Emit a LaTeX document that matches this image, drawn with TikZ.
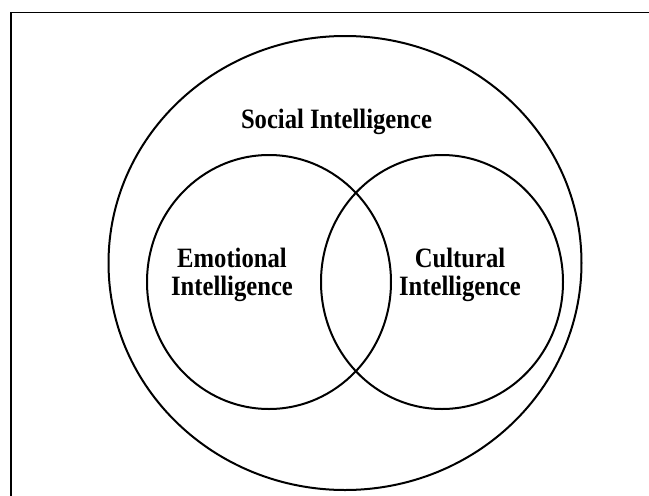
\documentclass[tikz,border=0pt]{standalone}
\usepackage{fontspec}
\setmainfont{Liberation Serif}
\newfontfamily\tallfont[FakeStretch=0.88]{Liberation Serif}
\tikzset{
	ring/.style = {line width = 2pt},
	label/.style = {font = \tallfont\fontsize{28}{28.5}\selectfont\bfseries, align = center, inner sep = 0pt}
}
\begin{document}
\begin{tikzpicture}[x = 1pt, y = -1pt]
		\useasboundingbox (0,0) rectangle (649,496);
		\draw[line width = 1.6pt] (11,496) -- (11,12.5) -- (649,12.5);
		\draw[ring] (345,263) ellipse (236.5 and 227);
		\draw[ring] (269,282) ellipse (122 and 127);
		\draw[ring] (442,282) ellipse (121 and 127);
		\node[label, anchor = base] (social) at (336.5,128) {Social Intelligence};
		\node[label] (emotional) at (232,275) {Emotional\\Intelligence};
		\node[label] (cultural) at (460,275) {Cultural\\Intelligence};
	\end{tikzpicture}
\end{document}
